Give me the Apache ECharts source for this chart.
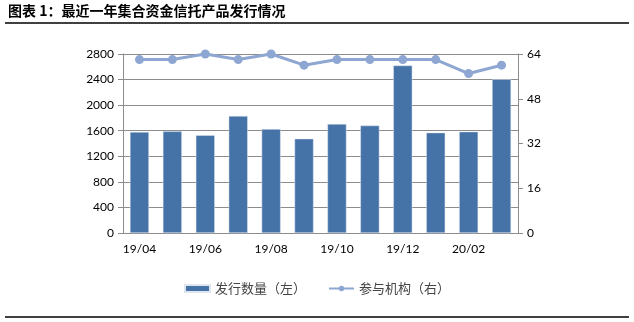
<!DOCTYPE html>
<html>
<head>
<meta charset="utf-8">
<script src="https://cdn.jsdelivr.net/npm/echarts@6/dist/echarts.min.js"></script>
<style>
  html, body { margin: 0; padding: 0; background: #fff; }
  #chart { width: 634px; height: 322px; }
</style>
</head>
<body>
<div id="chart"></div>
<script>
// Monthly issuance of collective trust products
const months = ['19/04', '19/05', '19/06', '19/07', '19/08', '19/09', '19/10', '19/11', '19/12', '20/01', '20/02', '20/03'];
const issueCount = [1580, 1590, 1530, 1830, 1625, 1475, 1705, 1680, 2620, 1570, 1585, 2405];
const institutions = [62, 62, 64, 62, 64, 60, 62, 62, 62, 62, 57, 60];
const leftTicks = { min: 0, max: 2800, interval: 400 };
const rightTicks = { min: 0, max: 64, interval: 16 };

const chart = echarts.init(document.getElementById('chart'), null, { renderer: 'canvas' });
const axisGray = '#8c8c8c';
const tickFont = { fontFamily: 'Lato, "Open Sans", sans-serif', fontSize: 12, color: '#000' };
const plain = v => String(v);

chart.setOption({
  animation: false,
  graphic: [
    {
      type: 'text', left: 8, top: 4,
      style: {
        text: '图表 1：最近一年集合资金信托产品发行情况',
        font: 'bold 14px "Noto Sans CJK SC", sans-serif',
        fill: '#000'
      }
    },
    { type: 'line', shape: { x1: 5, y1: 23, x2: 629, y2: 23 }, style: { stroke: '#000', lineWidth: 1.6 } },
    { type: 'line', shape: { x1: 5, y1: 317, x2: 629, y2: 317 }, style: { stroke: '#000', lineWidth: 1.6 } }
  ],
  grid: { left: 123, right: 116, top: 54, bottom: 89 },
  legend: {
    bottom: 22,
    left: 'center',
    itemGap: 22,
    textStyle: { fontFamily: '"Noto Sans CJK SC", sans-serif', fontSize: 13, color: '#444' },
    data: [
      { name: '发行数量（左）', icon: 'rect', itemStyle: { color: '#4572a7' } },
      { name: '参与机构（右）' }
    ],
    itemWidth: 25,
    itemHeight: 7
  },
  xAxis: {
    type: 'category',
    data: months,
    boundaryGap: true,
    axisLine: { lineStyle: { color: axisGray } },
    axisTick: { interval: 1, length: 5, lineStyle: { color: axisGray } },
    axisLabel: Object.assign({ interval: 1, margin: 10 }, tickFont)
  },
  yAxis: [
    {
      type: 'value',
      min: leftTicks.min, max: leftTicks.max, interval: leftTicks.interval,
      axisLine: { show: true, lineStyle: { color: axisGray } },
      axisTick: { show: true, length: 5, lineStyle: { color: axisGray } },
      axisLabel: Object.assign({ margin: 9, formatter: plain }, tickFont),
      splitLine: { lineStyle: { color: '#8c8c8c', width: 1 } }
    },
    {
      type: 'value',
      position: 'right',
      min: rightTicks.min, max: rightTicks.max, interval: rightTicks.interval,
      axisLine: { show: true, lineStyle: { color: axisGray } },
      axisTick: { show: true, length: 5, lineStyle: { color: axisGray } },
      axisLabel: Object.assign({ margin: 9, formatter: plain }, tickFont),
      splitLine: { show: false }
    }
  ],
  series: [
    {
      name: '发行数量（左）',
      type: 'bar',
      yAxisIndex: 0,
      data: issueCount,
      barWidth: 19,
      itemStyle: { color: '#4572a7', borderColor: '#dfe6f0', borderWidth: 0.5 }
    },
    {
      name: '参与机构（右）',
      type: 'line',
      yAxisIndex: 1,
      data: institutions,
      symbol: 'circle',
      symbolSize: 9,
      lineStyle: { color: '#8ea7d2', width: 3 },
      itemStyle: { color: '#8ea7d2' }
    }
  ]
});
</script>
</body>
</html>
